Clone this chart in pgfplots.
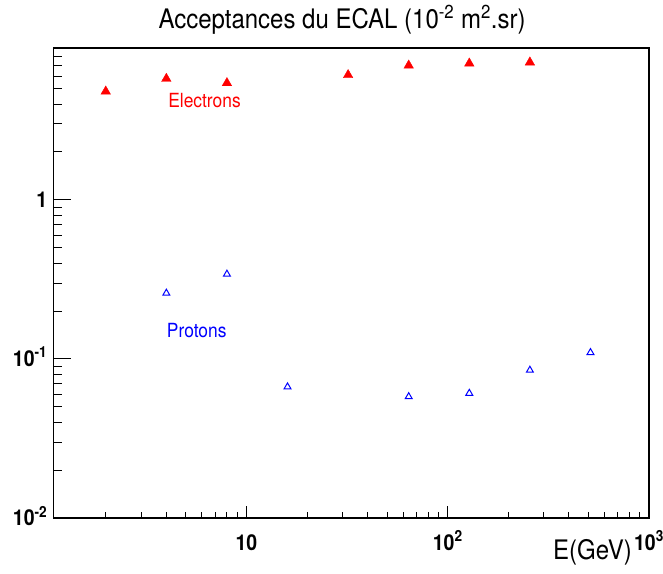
\documentclass[border=0pt]{standalone}
\usepackage{fontspec}
\setmainfont{TeX Gyre Heros}
\usepackage{pgfplots}
\pgfplotsset{compat=1.18}
\definecolor{rootred}{RGB}{255,0,0}
\definecolor{rootblue}{RGB}{0,0,255}
\begin{document}
\begin{tikzpicture}[x=1pt,y=1pt]
\path[use as bounding box] (0,0) rectangle (663,573);
\begin{axis}[
  at={(53.5pt,55pt)}, anchor=south west,
  scale only axis, width=595.5pt, height=470pt,
  xmode=log, ymode=log,
  xmin=1.1, xmax=1000, ymin=0.01, ymax=9,
  axis line style={line width=1.2pt},
  tick style={black, line width=1pt},
  tick align=inside,
  xtick=\empty,
  ytick={0.01,0.1,1},
  yticklabels={10\textsuperscript{-2},10\textsuperscript{-1},1},
  minor ytick={0.02,0.03,0.04,0.05,0.06,0.07,0.08,0.09,0.2,0.3,0.4,0.5,0.6,0.7,0.8,0.9,2,3,4,5,6,7,8},
  ytick pos=left,
  major tick length=18pt, minor tick length=9pt,
  yticklabel style={anchor=base east, inner sep=0pt, xshift=-6pt, yshift=-7.5pt, yscale=1.12, font=\fontsize{19.5}{20}\selectfont\bfseries},
  clip=false,
]
\addplot[only marks, mark=triangle*, mark size=5.5pt, color=rootred] coordinates {
 (2,4.80) (4,5.77) (8,5.42) (32,6.09) (64,6.99) (128,7.20) (256,7.31)};
\addplot[only marks, mark=triangle, mark size=4pt, color=rootblue, mark options={line width=1pt}] coordinates {
 (4,0.259) (8,0.341) (16,0.0667) (64,0.0579) (128,0.0608) (256,0.0849) (512,0.1096)};
\node[anchor=west, inner sep=0pt, yscale=1.12, text=rootred, font=\fontsize{17.4}{18}\selectfont] at (axis cs:4.08,4.2) {Electrons};
\node[anchor=west, inner sep=0pt, yscale=1.12, text=rootblue, font=\fontsize{17.4}{18}\selectfont] at (axis cs:4.02,0.150) {Protons};
\end{axis}
\begin{axis}[
  at={(53.5pt,55pt)}, anchor=south west,
  scale only axis, width=595.5pt, height=470pt,
  xmode=log, ymode=log,
  xmin=1.1, xmax=1000, ymin=0.01, ymax=9,
  axis line style={line width=1.2pt},
  tick style={black, line width=1pt},
  tick align=inside,
  ytick=\empty,
  xtick={10,100,1000},
  xticklabels={10,10\textsuperscript{2},10\textsuperscript{3}},
  minor xtick={2,3,4,5,6,7,8,9,20,30,40,50,60,70,80,90,200,300,400,500,600,700,800,900},
  xtick pos=left,
  major tick length=12pt, minor tick length=6pt,
  xticklabel style={anchor=base, inner sep=0pt, yshift=-32pt, yscale=1.12, font=\fontsize{19.5}{20}\selectfont\bfseries},
]
\end{axis}
\node[anchor=base, inner sep=0pt, yscale=1.12, font=\fontsize{24}{26}\selectfont] at (342,544) {Acceptances du ECAL (10\textsuperscript{-2} m\textsuperscript{2}.sr)};
\node[anchor=base east, inner sep=0pt, yscale=1.12, font=\fontsize{24}{26}\selectfont] at (632,14) {E(GeV)};
\end{tikzpicture}
\end{document}
